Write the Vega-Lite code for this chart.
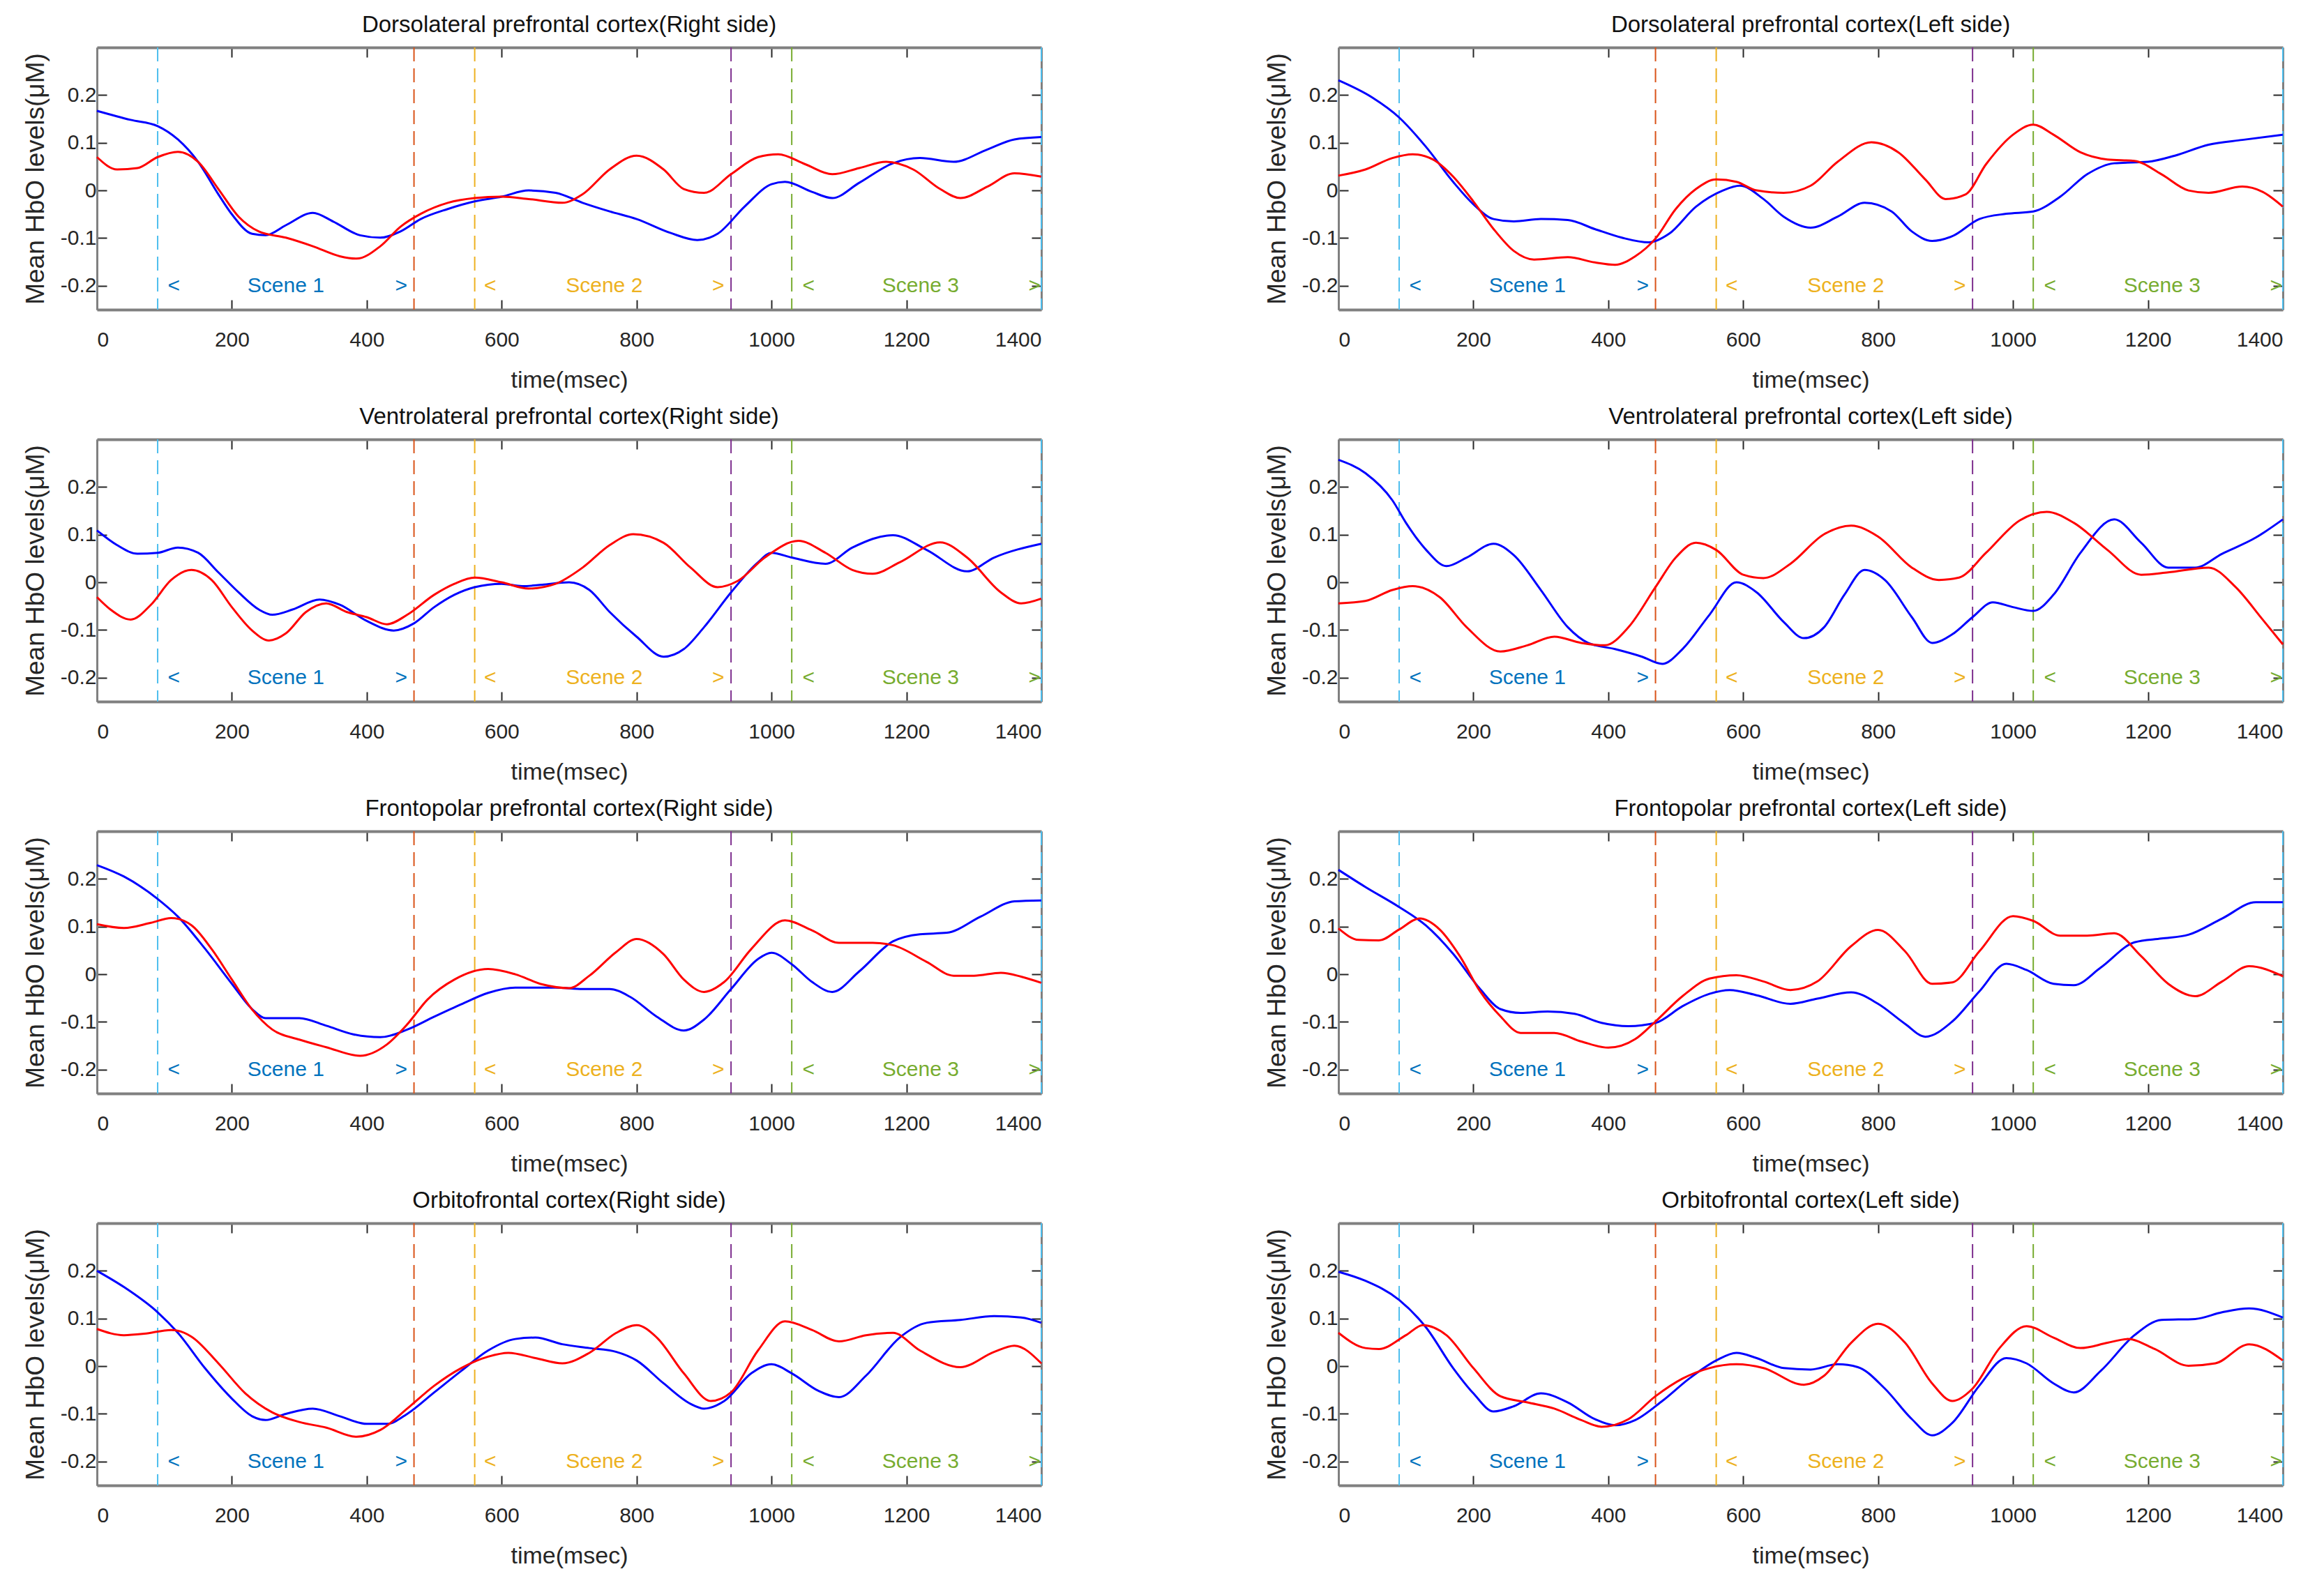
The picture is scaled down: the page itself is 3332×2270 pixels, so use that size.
{
"$schema": "https://vega.github.io/schema/vega-lite/v6.json",
"background": "white",
"padding": {"left": 32, "top": 20, "right": 10, "bottom": 10},
"datasets": {
"all": [
{"k":"c","p":"DR","c":"S1","t":0,"v":0.167},{"k":"c","p":"DR","c":"S1","t":50,"v":0.148},{"k":"c","p":"DR","c":"S1","t":90,"v":0.135},{"k":"c","p":"DR","c":"S1","t":120,"v":0.107},{"k":"c","p":"DR","c":"S1","t":150,"v":0.06},{"k":"c","p":"DR","c":"S1","t":180,"v":-0.008},{"k":"c","p":"DR","c":"S1","t":200,"v":-0.05},{"k":"c","p":"DR","c":"S1","t":230,"v":-0.091},{"k":"c","p":"DR","c":"S1","t":250,"v":-0.094},{"k":"c","p":"DR","c":"S1","t":280,"v":-0.073},{"k":"c","p":"DR","c":"S1","t":320,"v":-0.047},{"k":"c","p":"DR","c":"S1","t":350,"v":-0.065},{"k":"c","p":"DR","c":"S1","t":390,"v":-0.094},{"k":"c","p":"DR","c":"S1","t":420,"v":-0.099},{"k":"c","p":"DR","c":"S1","t":450,"v":-0.086},{"k":"c","p":"DR","c":"S1","t":480,"v":-0.06},{"k":"c","p":"DR","c":"S1","t":520,"v":-0.039},{"k":"c","p":"DR","c":"S1","t":560,"v":-0.023},{"k":"c","p":"DR","c":"S1","t":600,"v":-0.013},{"k":"c","p":"DR","c":"S1","t":640,"v":0},{"k":"c","p":"DR","c":"S1","t":680,"v":-0.005},{"k":"c","p":"DR","c":"S1","t":720,"v":-0.026},{"k":"c","p":"DR","c":"S1","t":760,"v":-0.044},{"k":"c","p":"DR","c":"S1","t":800,"v":-0.06},{"k":"c","p":"DR","c":"S1","t":850,"v":-0.089},{"k":"c","p":"DR","c":"S1","t":890,"v":-0.104},{"k":"c","p":"DR","c":"S1","t":920,"v":-0.091},{"k":"c","p":"DR","c":"S1","t":960,"v":-0.034},{"k":"c","p":"DR","c":"S1","t":1000,"v":0.013},{"k":"c","p":"DR","c":"S1","t":1020,"v":0.018},{"k":"c","p":"DR","c":"S1","t":1060,"v":-0.003},{"k":"c","p":"DR","c":"S1","t":1090,"v":-0.016},{"k":"c","p":"DR","c":"S1","t":1130,"v":0.016},{"k":"c","p":"DR","c":"S1","t":1180,"v":0.057},{"k":"c","p":"DR","c":"S1","t":1220,"v":0.068},{"k":"c","p":"DR","c":"S1","t":1270,"v":0.06},{"k":"c","p":"DR","c":"S1","t":1320,"v":0.086},{"k":"c","p":"DR","c":"S1","t":1360,"v":0.107},{"k":"c","p":"DR","c":"S1","t":1400,"v":0.112},
{"k":"c","p":"DR","c":"S2","t":0,"v":0.07},{"k":"c","p":"DR","c":"S2","t":30,"v":0.044},{"k":"c","p":"DR","c":"S2","t":60,"v":0.047},{"k":"c","p":"DR","c":"S2","t":90,"v":0.07},{"k":"c","p":"DR","c":"S2","t":120,"v":0.081},{"k":"c","p":"DR","c":"S2","t":150,"v":0.06},{"k":"c","p":"DR","c":"S2","t":180,"v":0.003},{"k":"c","p":"DR","c":"S2","t":210,"v":-0.055},{"k":"c","p":"DR","c":"S2","t":240,"v":-0.086},{"k":"c","p":"DR","c":"S2","t":280,"v":-0.099},{"k":"c","p":"DR","c":"S2","t":320,"v":-0.117},{"k":"c","p":"DR","c":"S2","t":360,"v":-0.138},{"k":"c","p":"DR","c":"S2","t":385,"v":-0.143},{"k":"c","p":"DR","c":"S2","t":420,"v":-0.117},{"k":"c","p":"DR","c":"S2","t":450,"v":-0.076},{"k":"c","p":"DR","c":"S2","t":480,"v":-0.049},{"k":"c","p":"DR","c":"S2","t":520,"v":-0.026},{"k":"c","p":"DR","c":"S2","t":560,"v":-0.016},{"k":"c","p":"DR","c":"S2","t":600,"v":-0.013},{"k":"c","p":"DR","c":"S2","t":640,"v":-0.018},{"k":"c","p":"DR","c":"S2","t":690,"v":-0.026},{"k":"c","p":"DR","c":"S2","t":720,"v":-0.008},{"k":"c","p":"DR","c":"S2","t":760,"v":0.044},{"k":"c","p":"DR","c":"S2","t":800,"v":0.073},{"k":"c","p":"DR","c":"S2","t":840,"v":0.044},{"k":"c","p":"DR","c":"S2","t":870,"v":0.003},{"k":"c","p":"DR","c":"S2","t":900,"v":-0.005},{"k":"c","p":"DR","c":"S2","t":940,"v":0.034},{"k":"c","p":"DR","c":"S2","t":980,"v":0.07},{"k":"c","p":"DR","c":"S2","t":1010,"v":0.076},{"k":"c","p":"DR","c":"S2","t":1050,"v":0.055},{"k":"c","p":"DR","c":"S2","t":1090,"v":0.034},{"k":"c","p":"DR","c":"S2","t":1130,"v":0.047},{"k":"c","p":"DR","c":"S2","t":1170,"v":0.06},{"k":"c","p":"DR","c":"S2","t":1210,"v":0.044},{"k":"c","p":"DR","c":"S2","t":1250,"v":0.003},{"k":"c","p":"DR","c":"S2","t":1280,"v":-0.016},{"k":"c","p":"DR","c":"S2","t":1320,"v":0.008},{"k":"c","p":"DR","c":"S2","t":1360,"v":0.036},{"k":"c","p":"DR","c":"S2","t":1400,"v":0.029},
{"k":"c","p":"DL","c":"S1","t":0,"v":0.231},{"k":"c","p":"DL","c":"S1","t":50,"v":0.195},{"k":"c","p":"DL","c":"S1","t":90,"v":0.153},{"k":"c","p":"DL","c":"S1","t":130,"v":0.091},{"k":"c","p":"DL","c":"S1","t":170,"v":0.018},{"k":"c","p":"DL","c":"S1","t":200,"v":-0.029},{"k":"c","p":"DL","c":"S1","t":230,"v":-0.06},{"k":"c","p":"DL","c":"S1","t":260,"v":-0.065},{"k":"c","p":"DL","c":"S1","t":300,"v":-0.06},{"k":"c","p":"DL","c":"S1","t":340,"v":-0.062},{"k":"c","p":"DL","c":"S1","t":380,"v":-0.081},{"k":"c","p":"DL","c":"S1","t":420,"v":-0.099},{"k":"c","p":"DL","c":"S1","t":460,"v":-0.109},{"k":"c","p":"DL","c":"S1","t":490,"v":-0.091},{"k":"c","p":"DL","c":"S1","t":530,"v":-0.034},{"k":"c","p":"DL","c":"S1","t":570,"v":0},{"k":"c","p":"DL","c":"S1","t":595,"v":0.01},{"k":"c","p":"DL","c":"S1","t":630,"v":-0.018},{"k":"c","p":"DL","c":"S1","t":660,"v":-0.055},{"k":"c","p":"DL","c":"S1","t":700,"v":-0.078},{"k":"c","p":"DL","c":"S1","t":740,"v":-0.055},{"k":"c","p":"DL","c":"S1","t":780,"v":-0.026},{"k":"c","p":"DL","c":"S1","t":820,"v":-0.044},{"k":"c","p":"DL","c":"S1","t":850,"v":-0.086},{"k":"c","p":"DL","c":"S1","t":880,"v":-0.106},{"k":"c","p":"DL","c":"S1","t":910,"v":-0.096},{"k":"c","p":"DL","c":"S1","t":950,"v":-0.06},{"k":"c","p":"DL","c":"S1","t":990,"v":-0.049},{"k":"c","p":"DL","c":"S1","t":1030,"v":-0.044},{"k":"c","p":"DL","c":"S1","t":1070,"v":-0.013},{"k":"c","p":"DL","c":"S1","t":1110,"v":0.034},{"k":"c","p":"DL","c":"S1","t":1150,"v":0.057},{"k":"c","p":"DL","c":"S1","t":1200,"v":0.06},{"k":"c","p":"DL","c":"S1","t":1240,"v":0.073},{"k":"c","p":"DL","c":"S1","t":1290,"v":0.096},{"k":"c","p":"DL","c":"S1","t":1340,"v":0.106},{"k":"c","p":"DL","c":"S1","t":1400,"v":0.117},
{"k":"c","p":"DL","c":"S2","t":0,"v":0.031},{"k":"c","p":"DL","c":"S2","t":40,"v":0.044},{"k":"c","p":"DL","c":"S2","t":80,"v":0.068},{"k":"c","p":"DL","c":"S2","t":110,"v":0.076},{"k":"c","p":"DL","c":"S2","t":140,"v":0.065},{"k":"c","p":"DL","c":"S2","t":170,"v":0.029},{"k":"c","p":"DL","c":"S2","t":200,"v":-0.023},{"k":"c","p":"DL","c":"S2","t":230,"v":-0.081},{"k":"c","p":"DL","c":"S2","t":260,"v":-0.127},{"k":"c","p":"DL","c":"S2","t":290,"v":-0.145},{"k":"c","p":"DL","c":"S2","t":340,"v":-0.14},{"k":"c","p":"DL","c":"S2","t":380,"v":-0.151},{"k":"c","p":"DL","c":"S2","t":410,"v":-0.156},{"k":"c","p":"DL","c":"S2","t":440,"v":-0.138},{"k":"c","p":"DL","c":"S2","t":470,"v":-0.101},{"k":"c","p":"DL","c":"S2","t":500,"v":-0.039},{"k":"c","p":"DL","c":"S2","t":530,"v":0.003},{"k":"c","p":"DL","c":"S2","t":560,"v":0.023},{"k":"c","p":"DL","c":"S2","t":590,"v":0.018},{"k":"c","p":"DL","c":"S2","t":620,"v":0},{"k":"c","p":"DL","c":"S2","t":660,"v":-0.005},{"k":"c","p":"DL","c":"S2","t":700,"v":0.01},{"k":"c","p":"DL","c":"S2","t":740,"v":0.06},{"k":"c","p":"DL","c":"S2","t":790,"v":0.101},{"k":"c","p":"DL","c":"S2","t":830,"v":0.08},{"k":"c","p":"DL","c":"S2","t":870,"v":0.023},{"k":"c","p":"DL","c":"S2","t":900,"v":-0.018},{"k":"c","p":"DL","c":"S2","t":930,"v":-0.008},{"k":"c","p":"DL","c":"S2","t":960,"v":0.055},{"k":"c","p":"DL","c":"S2","t":1000,"v":0.117},{"k":"c","p":"DL","c":"S2","t":1030,"v":0.138},{"k":"c","p":"DL","c":"S2","t":1060,"v":0.117},{"k":"c","p":"DL","c":"S2","t":1100,"v":0.08},{"k":"c","p":"DL","c":"S2","t":1140,"v":0.065},{"k":"c","p":"DL","c":"S2","t":1180,"v":0.062},{"k":"c","p":"DL","c":"S2","t":1220,"v":0.034},{"k":"c","p":"DL","c":"S2","t":1260,"v":0},{"k":"c","p":"DL","c":"S2","t":1290,"v":-0.005},{"k":"c","p":"DL","c":"S2","t":1340,"v":0.008},{"k":"c","p":"DL","c":"S2","t":1370,"v":-0.003},{"k":"c","p":"DL","c":"S2","t":1400,"v":-0.034},
{"k":"c","p":"VR","c":"S1","t":0,"v":0.109},{"k":"c","p":"VR","c":"S1","t":30,"v":0.078},{"k":"c","p":"VR","c":"S1","t":60,"v":0.06},{"k":"c","p":"VR","c":"S1","t":90,"v":0.062},{"k":"c","p":"VR","c":"S1","t":120,"v":0.073},{"k":"c","p":"VR","c":"S1","t":150,"v":0.062},{"k":"c","p":"VR","c":"S1","t":180,"v":0.021},{"k":"c","p":"VR","c":"S1","t":210,"v":-0.021},{"k":"c","p":"VR","c":"S1","t":240,"v":-0.057},{"k":"c","p":"VR","c":"S1","t":260,"v":-0.068},{"k":"c","p":"VR","c":"S1","t":290,"v":-0.057},{"k":"c","p":"VR","c":"S1","t":330,"v":-0.036},{"k":"c","p":"VR","c":"S1","t":360,"v":-0.047},{"k":"c","p":"VR","c":"S1","t":400,"v":-0.081},{"k":"c","p":"VR","c":"S1","t":440,"v":-0.101},{"k":"c","p":"VR","c":"S1","t":470,"v":-0.086},{"k":"c","p":"VR","c":"S1","t":500,"v":-0.052},{"k":"c","p":"VR","c":"S1","t":530,"v":-0.026},{"k":"c","p":"VR","c":"S1","t":560,"v":-0.01},{"k":"c","p":"VR","c":"S1","t":600,"v":-0.003},{"k":"c","p":"VR","c":"S1","t":630,"v":-0.008},{"k":"c","p":"VR","c":"S1","t":660,"v":-0.005},{"k":"c","p":"VR","c":"S1","t":700,"v":0},{"k":"c","p":"VR","c":"S1","t":730,"v":-0.016},{"k":"c","p":"VR","c":"S1","t":760,"v":-0.062},{"k":"c","p":"VR","c":"S1","t":800,"v":-0.114},{"k":"c","p":"VR","c":"S1","t":840,"v":-0.156},{"k":"c","p":"VR","c":"S1","t":870,"v":-0.14},{"k":"c","p":"VR","c":"S1","t":900,"v":-0.094},{"k":"c","p":"VR","c":"S1","t":940,"v":-0.021},{"k":"c","p":"VR","c":"S1","t":980,"v":0.042},{"k":"c","p":"VR","c":"S1","t":1000,"v":0.062},{"k":"c","p":"VR","c":"S1","t":1030,"v":0.052},{"k":"c","p":"VR","c":"S1","t":1080,"v":0.039},{"k":"c","p":"VR","c":"S1","t":1120,"v":0.073},{"k":"c","p":"VR","c":"S1","t":1180,"v":0.099},{"k":"c","p":"VR","c":"S1","t":1230,"v":0.068},{"k":"c","p":"VR","c":"S1","t":1290,"v":0.023},{"k":"c","p":"VR","c":"S1","t":1330,"v":0.052},{"k":"c","p":"VR","c":"S1","t":1400,"v":0.081},
{"k":"c","p":"VR","c":"S2","t":0,"v":-0.031},{"k":"c","p":"VR","c":"S2","t":20,"v":-0.057},{"k":"c","p":"VR","c":"S2","t":50,"v":-0.078},{"k":"c","p":"VR","c":"S2","t":80,"v":-0.047},{"k":"c","p":"VR","c":"S2","t":110,"v":0.005},{"k":"c","p":"VR","c":"S2","t":140,"v":0.026},{"k":"c","p":"VR","c":"S2","t":170,"v":0.005},{"k":"c","p":"VR","c":"S2","t":200,"v":-0.052},{"k":"c","p":"VR","c":"S2","t":230,"v":-0.101},{"k":"c","p":"VR","c":"S2","t":255,"v":-0.122},{"k":"c","p":"VR","c":"S2","t":280,"v":-0.107},{"k":"c","p":"VR","c":"S2","t":310,"v":-0.062},{"k":"c","p":"VR","c":"S2","t":340,"v":-0.044},{"k":"c","p":"VR","c":"S2","t":370,"v":-0.062},{"k":"c","p":"VR","c":"S2","t":400,"v":-0.073},{"k":"c","p":"VR","c":"S2","t":430,"v":-0.088},{"k":"c","p":"VR","c":"S2","t":460,"v":-0.068},{"k":"c","p":"VR","c":"S2","t":500,"v":-0.026},{"k":"c","p":"VR","c":"S2","t":530,"v":-0.003},{"k":"c","p":"VR","c":"S2","t":560,"v":0.01},{"k":"c","p":"VR","c":"S2","t":600,"v":0},{"k":"c","p":"VR","c":"S2","t":640,"v":-0.013},{"k":"c","p":"VR","c":"S2","t":680,"v":-0.003},{"k":"c","p":"VR","c":"S2","t":720,"v":0.031},{"k":"c","p":"VR","c":"S2","t":760,"v":0.078},{"k":"c","p":"VR","c":"S2","t":795,"v":0.101},{"k":"c","p":"VR","c":"S2","t":840,"v":0.083},{"k":"c","p":"VR","c":"S2","t":880,"v":0.031},{"k":"c","p":"VR","c":"S2","t":920,"v":-0.01},{"k":"c","p":"VR","c":"S2","t":950,"v":0.003},{"k":"c","p":"VR","c":"S2","t":990,"v":0.052},{"k":"c","p":"VR","c":"S2","t":1040,"v":0.087},{"k":"c","p":"VR","c":"S2","t":1080,"v":0.062},{"k":"c","p":"VR","c":"S2","t":1120,"v":0.026},{"k":"c","p":"VR","c":"S2","t":1150,"v":0.018},{"k":"c","p":"VR","c":"S2","t":1190,"v":0.042},{"k":"c","p":"VR","c":"S2","t":1250,"v":0.084},{"k":"c","p":"VR","c":"S2","t":1290,"v":0.052},{"k":"c","p":"VR","c":"S2","t":1340,"v":-0.021},{"k":"c","p":"VR","c":"S2","t":1370,"v":-0.044},{"k":"c","p":"VR","c":"S2","t":1400,"v":-0.034},
{"k":"c","p":"VL","c":"S1","t":0,"v":0.257},{"k":"c","p":"VL","c":"S1","t":40,"v":0.229},{"k":"c","p":"VL","c":"S1","t":80,"v":0.172},{"k":"c","p":"VL","c":"S1","t":100,"v":0.125},{"k":"c","p":"VL","c":"S1","t":130,"v":0.068},{"k":"c","p":"VL","c":"S1","t":160,"v":0.034},{"k":"c","p":"VL","c":"S1","t":190,"v":0.052},{"k":"c","p":"VL","c":"S1","t":230,"v":0.081},{"k":"c","p":"VL","c":"S1","t":260,"v":0.057},{"k":"c","p":"VL","c":"S1","t":300,"v":-0.016},{"k":"c","p":"VL","c":"S1","t":340,"v":-0.094},{"k":"c","p":"VL","c":"S1","t":370,"v":-0.127},{"k":"c","p":"VL","c":"S1","t":410,"v":-0.14},{"k":"c","p":"VL","c":"S1","t":450,"v":-0.156},{"k":"c","p":"VL","c":"S1","t":480,"v":-0.171},{"k":"c","p":"VL","c":"S1","t":510,"v":-0.14},{"k":"c","p":"VL","c":"S1","t":550,"v":-0.068},{"k":"c","p":"VL","c":"S1","t":590,"v":0},{"k":"c","p":"VL","c":"S1","t":620,"v":-0.021},{"k":"c","p":"VL","c":"S1","t":660,"v":-0.083},{"k":"c","p":"VL","c":"S1","t":690,"v":-0.117},{"k":"c","p":"VL","c":"S1","t":720,"v":-0.094},{"k":"c","p":"VL","c":"S1","t":750,"v":-0.026},{"k":"c","p":"VL","c":"S1","t":780,"v":0.026},{"k":"c","p":"VL","c":"S1","t":810,"v":0.005},{"k":"c","p":"VL","c":"S1","t":850,"v":-0.073},{"k":"c","p":"VL","c":"S1","t":880,"v":-0.127},{"k":"c","p":"VL","c":"S1","t":910,"v":-0.109},{"k":"c","p":"VL","c":"S1","t":940,"v":-0.073},{"k":"c","p":"VL","c":"S1","t":970,"v":-0.042},{"k":"c","p":"VL","c":"S1","t":1000,"v":-0.052},{"k":"c","p":"VL","c":"S1","t":1030,"v":-0.06},{"k":"c","p":"VL","c":"S1","t":1060,"v":-0.026},{"k":"c","p":"VL","c":"S1","t":1100,"v":0.062},{"k":"c","p":"VL","c":"S1","t":1150,"v":0.132},{"k":"c","p":"VL","c":"S1","t":1190,"v":0.083},{"k":"c","p":"VL","c":"S1","t":1230,"v":0.031},{"k":"c","p":"VL","c":"S1","t":1270,"v":0.031},{"k":"c","p":"VL","c":"S1","t":1310,"v":0.06},{"k":"c","p":"VL","c":"S1","t":1360,"v":0.094},{"k":"c","p":"VL","c":"S1","t":1400,"v":0.132},
{"k":"c","p":"VL","c":"S2","t":0,"v":-0.044},{"k":"c","p":"VL","c":"S2","t":40,"v":-0.039},{"k":"c","p":"VL","c":"S2","t":80,"v":-0.016},{"k":"c","p":"VL","c":"S2","t":110,"v":-0.008},{"k":"c","p":"VL","c":"S2","t":150,"v":-0.031},{"k":"c","p":"VL","c":"S2","t":190,"v":-0.094},{"k":"c","p":"VL","c":"S2","t":240,"v":-0.145},{"k":"c","p":"VL","c":"S2","t":280,"v":-0.132},{"k":"c","p":"VL","c":"S2","t":320,"v":-0.114},{"k":"c","p":"VL","c":"S2","t":360,"v":-0.127},{"k":"c","p":"VL","c":"S2","t":395,"v":-0.132},{"k":"c","p":"VL","c":"S2","t":430,"v":-0.094},{"k":"c","p":"VL","c":"S2","t":470,"v":-0.01},{"k":"c","p":"VL","c":"S2","t":500,"v":0.052},{"k":"c","p":"VL","c":"S2","t":530,"v":0.083},{"k":"c","p":"VL","c":"S2","t":560,"v":0.068},{"k":"c","p":"VL","c":"S2","t":600,"v":0.016},{"k":"c","p":"VL","c":"S2","t":630,"v":0.009},{"k":"c","p":"VL","c":"S2","t":670,"v":0.039},{"k":"c","p":"VL","c":"S2","t":720,"v":0.101},{"k":"c","p":"VL","c":"S2","t":760,"v":0.119},{"k":"c","p":"VL","c":"S2","t":800,"v":0.096},{"k":"c","p":"VL","c":"S2","t":850,"v":0.031},{"k":"c","p":"VL","c":"S2","t":890,"v":0.005},{"k":"c","p":"VL","c":"S2","t":920,"v":0.01},{"k":"c","p":"VL","c":"S2","t":960,"v":0.062},{"k":"c","p":"VL","c":"S2","t":1010,"v":0.13},{"k":"c","p":"VL","c":"S2","t":1050,"v":0.148},{"k":"c","p":"VL","c":"S2","t":1090,"v":0.125},{"k":"c","p":"VL","c":"S2","t":1140,"v":0.068},{"k":"c","p":"VL","c":"S2","t":1190,"v":0.016},{"k":"c","p":"VL","c":"S2","t":1230,"v":0.021},{"k":"c","p":"VL","c":"S2","t":1290,"v":0.031},{"k":"c","p":"VL","c":"S2","t":1330,"v":-0.01},{"k":"c","p":"VL","c":"S2","t":1370,"v":-0.078},{"k":"c","p":"VL","c":"S2","t":1400,"v":-0.13},
{"k":"c","p":"FR","c":"S1","t":0,"v":0.229},{"k":"c","p":"FR","c":"S1","t":40,"v":0.205},{"k":"c","p":"FR","c":"S1","t":90,"v":0.158},{"k":"c","p":"FR","c":"S1","t":120,"v":0.121},{"k":"c","p":"FR","c":"S1","t":160,"v":0.054},{"k":"c","p":"FR","c":"S1","t":200,"v":-0.02},{"k":"c","p":"FR","c":"S1","t":230,"v":-0.073},{"k":"c","p":"FR","c":"S1","t":250,"v":-0.092},{"k":"c","p":"FR","c":"S1","t":300,"v":-0.092},{"k":"c","p":"FR","c":"S1","t":340,"v":-0.108},{"k":"c","p":"FR","c":"S1","t":380,"v":-0.126},{"k":"c","p":"FR","c":"S1","t":420,"v":-0.132},{"k":"c","p":"FR","c":"S1","t":460,"v":-0.116},{"k":"c","p":"FR","c":"S1","t":500,"v":-0.089},{"k":"c","p":"FR","c":"S1","t":540,"v":-0.063},{"k":"c","p":"FR","c":"S1","t":580,"v":-0.039},{"k":"c","p":"FR","c":"S1","t":620,"v":-0.028},{"k":"c","p":"FR","c":"S1","t":680,"v":-0.028},{"k":"c","p":"FR","c":"S1","t":720,"v":-0.031},{"k":"c","p":"FR","c":"S1","t":760,"v":-0.031},{"k":"c","p":"FR","c":"S1","t":790,"v":-0.047},{"k":"c","p":"FR","c":"S1","t":830,"v":-0.089},{"k":"c","p":"FR","c":"S1","t":870,"v":-0.118},{"k":"c","p":"FR","c":"S1","t":900,"v":-0.095},{"k":"c","p":"FR","c":"S1","t":940,"v":-0.031},{"k":"c","p":"FR","c":"S1","t":980,"v":0.032},{"k":"c","p":"FR","c":"S1","t":1000,"v":0.045},{"k":"c","p":"FR","c":"S1","t":1030,"v":0.021},{"k":"c","p":"FR","c":"S1","t":1060,"v":-0.016},{"k":"c","p":"FR","c":"S1","t":1090,"v":-0.037},{"k":"c","p":"FR","c":"S1","t":1130,"v":0.006},{"k":"c","p":"FR","c":"S1","t":1180,"v":0.069},{"k":"c","p":"FR","c":"S1","t":1220,"v":0.084},{"k":"c","p":"FR","c":"S1","t":1260,"v":0.087},{"k":"c","p":"FR","c":"S1","t":1310,"v":0.121},{"k":"c","p":"FR","c":"S1","t":1360,"v":0.153},{"k":"c","p":"FR","c":"S1","t":1400,"v":0.155},
{"k":"c","p":"FR","c":"S2","t":0,"v":0.105},{"k":"c","p":"FR","c":"S2","t":40,"v":0.097},{"k":"c","p":"FR","c":"S2","t":80,"v":0.108},{"k":"c","p":"FR","c":"S2","t":110,"v":0.118},{"k":"c","p":"FR","c":"S2","t":140,"v":0.103},{"k":"c","p":"FR","c":"S2","t":170,"v":0.053},{"k":"c","p":"FR","c":"S2","t":200,"v":-0.011},{"k":"c","p":"FR","c":"S2","t":230,"v":-0.074},{"k":"c","p":"FR","c":"S2","t":260,"v":-0.116},{"k":"c","p":"FR","c":"S2","t":300,"v":-0.137},{"k":"c","p":"FR","c":"S2","t":340,"v":-0.153},{"k":"c","p":"FR","c":"S2","t":390,"v":-0.171},{"k":"c","p":"FR","c":"S2","t":430,"v":-0.147},{"k":"c","p":"FR","c":"S2","t":460,"v":-0.105},{"k":"c","p":"FR","c":"S2","t":490,"v":-0.053},{"k":"c","p":"FR","c":"S2","t":530,"v":-0.011},{"k":"c","p":"FR","c":"S2","t":580,"v":0.011},{"k":"c","p":"FR","c":"S2","t":620,"v":0},{"k":"c","p":"FR","c":"S2","t":660,"v":-0.021},{"k":"c","p":"FR","c":"S2","t":700,"v":-0.029},{"k":"c","p":"FR","c":"S2","t":730,"v":-0.003},{"k":"c","p":"FR","c":"S2","t":770,"v":0.047},{"k":"c","p":"FR","c":"S2","t":800,"v":0.074},{"k":"c","p":"FR","c":"S2","t":840,"v":0.042},{"k":"c","p":"FR","c":"S2","t":870,"v":-0.011},{"k":"c","p":"FR","c":"S2","t":900,"v":-0.037},{"k":"c","p":"FR","c":"S2","t":930,"v":-0.016},{"k":"c","p":"FR","c":"S2","t":970,"v":0.053},{"k":"c","p":"FR","c":"S2","t":1020,"v":0.113},{"k":"c","p":"FR","c":"S2","t":1060,"v":0.092},{"k":"c","p":"FR","c":"S2","t":1100,"v":0.066},{"k":"c","p":"FR","c":"S2","t":1150,"v":0.066},{"k":"c","p":"FR","c":"S2","t":1180,"v":0.061},{"k":"c","p":"FR","c":"S2","t":1230,"v":0.026},{"k":"c","p":"FR","c":"S2","t":1270,"v":-0.003},{"k":"c","p":"FR","c":"S2","t":1300,"v":-0.003},{"k":"c","p":"FR","c":"S2","t":1340,"v":0.003},{"k":"c","p":"FR","c":"S2","t":1370,"v":-0.005},{"k":"c","p":"FR","c":"S2","t":1400,"v":-0.018},
{"k":"c","p":"FL","c":"S1","t":0,"v":0.219},{"k":"c","p":"FL","c":"S1","t":40,"v":0.183},{"k":"c","p":"FL","c":"S1","t":90,"v":0.141},{"k":"c","p":"FL","c":"S1","t":130,"v":0.102},{"k":"c","p":"FL","c":"S1","t":170,"v":0.043},{"k":"c","p":"FL","c":"S1","t":210,"v":-0.031},{"k":"c","p":"FL","c":"S1","t":240,"v":-0.073},{"k":"c","p":"FL","c":"S1","t":270,"v":-0.081},{"k":"c","p":"FL","c":"S1","t":310,"v":-0.078},{"k":"c","p":"FL","c":"S1","t":350,"v":-0.083},{"k":"c","p":"FL","c":"S1","t":390,"v":-0.102},{"k":"c","p":"FL","c":"S1","t":430,"v":-0.109},{"k":"c","p":"FL","c":"S1","t":470,"v":-0.102},{"k":"c","p":"FL","c":"S1","t":510,"v":-0.067},{"k":"c","p":"FL","c":"S1","t":550,"v":-0.041},{"k":"c","p":"FL","c":"S1","t":580,"v":-0.033},{"k":"c","p":"FL","c":"S1","t":620,"v":-0.044},{"k":"c","p":"FL","c":"S1","t":670,"v":-0.062},{"k":"c","p":"FL","c":"S1","t":710,"v":-0.051},{"k":"c","p":"FL","c":"S1","t":760,"v":-0.038},{"k":"c","p":"FL","c":"S1","t":800,"v":-0.062},{"k":"c","p":"FL","c":"S1","t":840,"v":-0.104},{"k":"c","p":"FL","c":"S1","t":870,"v":-0.131},{"k":"c","p":"FL","c":"S1","t":910,"v":-0.099},{"k":"c","p":"FL","c":"S1","t":950,"v":-0.036},{"k":"c","p":"FL","c":"S1","t":990,"v":0.022},{"k":"c","p":"FL","c":"S1","t":1020,"v":0.009},{"k":"c","p":"FL","c":"S1","t":1060,"v":-0.02},{"k":"c","p":"FL","c":"S1","t":1090,"v":-0.023},{"k":"c","p":"FL","c":"S1","t":1130,"v":0.014},{"k":"c","p":"FL","c":"S1","t":1180,"v":0.067},{"k":"c","p":"FL","c":"S1","t":1220,"v":0.075},{"k":"c","p":"FL","c":"S1","t":1260,"v":0.083},{"k":"c","p":"FL","c":"S1","t":1310,"v":0.117},{"k":"c","p":"FL","c":"S1","t":1360,"v":0.151},{"k":"c","p":"FL","c":"S1","t":1400,"v":0.151},
{"k":"c","p":"FL","c":"S2","t":0,"v":0.096},{"k":"c","p":"FL","c":"S2","t":30,"v":0.072},{"k":"c","p":"FL","c":"S2","t":60,"v":0.071},{"k":"c","p":"FL","c":"S2","t":90,"v":0.094},{"k":"c","p":"FL","c":"S2","t":120,"v":0.117},{"k":"c","p":"FL","c":"S2","t":150,"v":0.094},{"k":"c","p":"FL","c":"S2","t":180,"v":0.038},{"k":"c","p":"FL","c":"S2","t":210,"v":-0.036},{"k":"c","p":"FL","c":"S2","t":240,"v":-0.088},{"k":"c","p":"FL","c":"S2","t":270,"v":-0.123},{"k":"c","p":"FL","c":"S2","t":320,"v":-0.123},{"k":"c","p":"FL","c":"S2","t":360,"v":-0.141},{"k":"c","p":"FL","c":"S2","t":400,"v":-0.154},{"k":"c","p":"FL","c":"S2","t":440,"v":-0.136},{"k":"c","p":"FL","c":"S2","t":470,"v":-0.099},{"k":"c","p":"FL","c":"S2","t":510,"v":-0.046},{"k":"c","p":"FL","c":"S2","t":550,"v":-0.009},{"k":"c","p":"FL","c":"S2","t":590,"v":-0.002},{"k":"c","p":"FL","c":"S2","t":630,"v":-0.015},{"k":"c","p":"FL","c":"S2","t":670,"v":-0.033},{"k":"c","p":"FL","c":"S2","t":710,"v":-0.015},{"k":"c","p":"FL","c":"S2","t":760,"v":0.059},{"k":"c","p":"FL","c":"S2","t":800,"v":0.093},{"k":"c","p":"FL","c":"S2","t":840,"v":0.048},{"k":"c","p":"FL","c":"S2","t":880,"v":-0.02},{"k":"c","p":"FL","c":"S2","t":910,"v":-0.017},{"k":"c","p":"FL","c":"S2","t":950,"v":0.048},{"k":"c","p":"FL","c":"S2","t":1000,"v":0.122},{"k":"c","p":"FL","c":"S2","t":1030,"v":0.112},{"k":"c","p":"FL","c":"S2","t":1070,"v":0.081},{"k":"c","p":"FL","c":"S2","t":1110,"v":0.081},{"k":"c","p":"FL","c":"S2","t":1150,"v":0.086},{"k":"c","p":"FL","c":"S2","t":1190,"v":0.038},{"k":"c","p":"FL","c":"S2","t":1230,"v":-0.02},{"k":"c","p":"FL","c":"S2","t":1270,"v":-0.046},{"k":"c","p":"FL","c":"S2","t":1310,"v":-0.015},{"k":"c","p":"FL","c":"S2","t":1350,"v":0.017},{"k":"c","p":"FL","c":"S2","t":1400,"v":-0.004},
{"k":"c","p":"OR","c":"S1","t":0,"v":0.2},{"k":"c","p":"OR","c":"S1","t":40,"v":0.166},{"k":"c","p":"OR","c":"S1","t":90,"v":0.113},{"k":"c","p":"OR","c":"S1","t":120,"v":0.07},{"k":"c","p":"OR","c":"S1","t":160,"v":-0.004},{"k":"c","p":"OR","c":"S1","t":200,"v":-0.068},{"k":"c","p":"OR","c":"S1","t":230,"v":-0.105},{"k":"c","p":"OR","c":"S1","t":250,"v":-0.113},{"k":"c","p":"OR","c":"S1","t":280,"v":-0.1},{"k":"c","p":"OR","c":"S1","t":320,"v":-0.089},{"k":"c","p":"OR","c":"S1","t":360,"v":-0.105},{"k":"c","p":"OR","c":"S1","t":400,"v":-0.121},{"k":"c","p":"OR","c":"S1","t":430,"v":-0.121},{"k":"c","p":"OR","c":"S1","t":460,"v":-0.1},{"k":"c","p":"OR","c":"S1","t":500,"v":-0.055},{"k":"c","p":"OR","c":"S1","t":540,"v":-0.01},{"k":"c","p":"OR","c":"S1","t":580,"v":0.033},{"k":"c","p":"OR","c":"S1","t":620,"v":0.057},{"k":"c","p":"OR","c":"S1","t":650,"v":0.06},{"k":"c","p":"OR","c":"S1","t":690,"v":0.046},{"k":"c","p":"OR","c":"S1","t":730,"v":0.038},{"k":"c","p":"OR","c":"S1","t":770,"v":0.03},{"k":"c","p":"OR","c":"S1","t":800,"v":0.012},{"k":"c","p":"OR","c":"S1","t":840,"v":-0.036},{"k":"c","p":"OR","c":"S1","t":880,"v":-0.079},{"k":"c","p":"OR","c":"S1","t":900,"v":-0.089},{"k":"c","p":"OR","c":"S1","t":930,"v":-0.073},{"k":"c","p":"OR","c":"S1","t":970,"v":-0.015},{"k":"c","p":"OR","c":"S1","t":1000,"v":0.004},{"k":"c","p":"OR","c":"S1","t":1030,"v":-0.015},{"k":"c","p":"OR","c":"S1","t":1070,"v":-0.052},{"k":"c","p":"OR","c":"S1","t":1100,"v":-0.065},{"k":"c","p":"OR","c":"S1","t":1140,"v":-0.02},{"k":"c","p":"OR","c":"S1","t":1190,"v":0.06},{"k":"c","p":"OR","c":"S1","t":1230,"v":0.091},{"k":"c","p":"OR","c":"S1","t":1280,"v":0.097},{"k":"c","p":"OR","c":"S1","t":1330,"v":0.105},{"k":"c","p":"OR","c":"S1","t":1370,"v":0.102},{"k":"c","p":"OR","c":"S1","t":1400,"v":0.091},
{"k":"c","p":"OR","c":"S2","t":0,"v":0.078},{"k":"c","p":"OR","c":"S2","t":40,"v":0.065},{"k":"c","p":"OR","c":"S2","t":70,"v":0.068},{"k":"c","p":"OR","c":"S2","t":110,"v":0.076},{"k":"c","p":"OR","c":"S2","t":140,"v":0.062},{"k":"c","p":"OR","c":"S2","t":180,"v":0.006},{"k":"c","p":"OR","c":"S2","t":220,"v":-0.057},{"k":"c","p":"OR","c":"S2","t":260,"v":-0.097},{"k":"c","p":"OR","c":"S2","t":300,"v":-0.117},{"k":"c","p":"OR","c":"S2","t":340,"v":-0.129},{"k":"c","p":"OR","c":"S2","t":385,"v":-0.148},{"k":"c","p":"OR","c":"S2","t":420,"v":-0.134},{"k":"c","p":"OR","c":"S2","t":460,"v":-0.089},{"k":"c","p":"OR","c":"S2","t":500,"v":-0.041},{"k":"c","p":"OR","c":"S2","t":540,"v":-0.004},{"k":"c","p":"OR","c":"S2","t":580,"v":0.02},{"k":"c","p":"OR","c":"S2","t":610,"v":0.028},{"k":"c","p":"OR","c":"S2","t":650,"v":0.017},{"k":"c","p":"OR","c":"S2","t":690,"v":0.006},{"k":"c","p":"OR","c":"S2","t":730,"v":0.028},{"k":"c","p":"OR","c":"S2","t":770,"v":0.07},{"k":"c","p":"OR","c":"S2","t":800,"v":0.086},{"k":"c","p":"OR","c":"S2","t":830,"v":0.06},{"k":"c","p":"OR","c":"S2","t":870,"v":-0.015},{"k":"c","p":"OR","c":"S2","t":910,"v":-0.073},{"k":"c","p":"OR","c":"S2","t":940,"v":-0.055},{"k":"c","p":"OR","c":"S2","t":980,"v":0.033},{"k":"c","p":"OR","c":"S2","t":1020,"v":0.094},{"k":"c","p":"OR","c":"S2","t":1060,"v":0.076},{"k":"c","p":"OR","c":"S2","t":1100,"v":0.052},{"k":"c","p":"OR","c":"S2","t":1140,"v":0.065},{"k":"c","p":"OR","c":"S2","t":1180,"v":0.07},{"k":"c","p":"OR","c":"S2","t":1220,"v":0.033},{"k":"c","p":"OR","c":"S2","t":1280,"v":-0.002},{"k":"c","p":"OR","c":"S2","t":1330,"v":0.03},{"k":"c","p":"OR","c":"S2","t":1360,"v":0.043},{"k":"c","p":"OR","c":"S2","t":1400,"v":0.006},
{"k":"c","p":"OL","c":"S1","t":0,"v":0.198},{"k":"c","p":"OL","c":"S1","t":40,"v":0.179},{"k":"c","p":"OL","c":"S1","t":90,"v":0.139},{"k":"c","p":"OL","c":"S1","t":130,"v":0.081},{"k":"c","p":"OL","c":"S1","t":170,"v":-0.004},{"k":"c","p":"OL","c":"S1","t":200,"v":-0.057},{"k":"c","p":"OL","c":"S1","t":230,"v":-0.095},{"k":"c","p":"OL","c":"S1","t":260,"v":-0.084},{"k":"c","p":"OL","c":"S1","t":300,"v":-0.057},{"k":"c","p":"OL","c":"S1","t":340,"v":-0.076},{"k":"c","p":"OL","c":"S1","t":380,"v":-0.111},{"k":"c","p":"OL","c":"S1","t":410,"v":-0.124},{"k":"c","p":"OL","c":"S1","t":440,"v":-0.113},{"k":"c","p":"OL","c":"S1","t":480,"v":-0.073},{"k":"c","p":"OL","c":"S1","t":520,"v":-0.026},{"k":"c","p":"OL","c":"S1","t":560,"v":0.012},{"k":"c","p":"OL","c":"S1","t":590,"v":0.028},{"k":"c","p":"OL","c":"S1","t":620,"v":0.017},{"k":"c","p":"OL","c":"S1","t":660,"v":-0.004},{"k":"c","p":"OL","c":"S1","t":700,"v":-0.007},{"k":"c","p":"OL","c":"S1","t":740,"v":0.004},{"k":"c","p":"OL","c":"S1","t":770,"v":-0.002},{"k":"c","p":"OL","c":"S1","t":810,"v":-0.047},{"k":"c","p":"OL","c":"S1","t":850,"v":-0.111},{"k":"c","p":"OL","c":"S1","t":880,"v":-0.145},{"k":"c","p":"OL","c":"S1","t":910,"v":-0.119},{"k":"c","p":"OL","c":"S1","t":950,"v":-0.041},{"k":"c","p":"OL","c":"S1","t":990,"v":0.017},{"k":"c","p":"OL","c":"S1","t":1020,"v":0.006},{"k":"c","p":"OL","c":"S1","t":1060,"v":-0.036},{"k":"c","p":"OL","c":"S1","t":1090,"v":-0.055},{"k":"c","p":"OL","c":"S1","t":1130,"v":-0.01},{"k":"c","p":"OL","c":"S1","t":1180,"v":0.065},{"k":"c","p":"OL","c":"S1","t":1220,"v":0.097},{"k":"c","p":"OL","c":"S1","t":1270,"v":0.099},{"k":"c","p":"OL","c":"S1","t":1310,"v":0.113},{"k":"c","p":"OL","c":"S1","t":1350,"v":0.121},{"k":"c","p":"OL","c":"S1","t":1400,"v":0.102},
{"k":"c","p":"OL","c":"S2","t":0,"v":0.07},{"k":"c","p":"OL","c":"S2","t":40,"v":0.038},{"k":"c","p":"OL","c":"S2","t":60,"v":0.036},{"k":"c","p":"OL","c":"S2","t":100,"v":0.065},{"k":"c","p":"OL","c":"S2","t":125,"v":0.086},{"k":"c","p":"OL","c":"S2","t":160,"v":0.065},{"k":"c","p":"OL","c":"S2","t":200,"v":-0.004},{"k":"c","p":"OL","c":"S2","t":240,"v":-0.063},{"k":"c","p":"OL","c":"S2","t":280,"v":-0.076},{"k":"c","p":"OL","c":"S2","t":320,"v":-0.089},{"k":"c","p":"OL","c":"S2","t":360,"v":-0.113},{"k":"c","p":"OL","c":"S2","t":390,"v":-0.127},{"k":"c","p":"OL","c":"S2","t":430,"v":-0.111},{"k":"c","p":"OL","c":"S2","t":470,"v":-0.063},{"k":"c","p":"OL","c":"S2","t":510,"v":-0.026},{"k":"c","p":"OL","c":"S2","t":550,"v":-0.004},{"k":"c","p":"OL","c":"S2","t":590,"v":0.004},{"k":"c","p":"OL","c":"S2","t":630,"v":-0.004},{"k":"c","p":"OL","c":"S2","t":690,"v":-0.039},{"k":"c","p":"OL","c":"S2","t":720,"v":-0.02},{"k":"c","p":"OL","c":"S2","t":760,"v":0.049},{"k":"c","p":"OL","c":"S2","t":800,"v":0.089},{"k":"c","p":"OL","c":"S2","t":840,"v":0.049},{"k":"c","p":"OL","c":"S2","t":880,"v":-0.036},{"k":"c","p":"OL","c":"S2","t":910,"v":-0.073},{"k":"c","p":"OL","c":"S2","t":940,"v":-0.047},{"k":"c","p":"OL","c":"S2","t":980,"v":0.038},{"k":"c","p":"OL","c":"S2","t":1020,"v":0.084},{"k":"c","p":"OL","c":"S2","t":1060,"v":0.06},{"k":"c","p":"OL","c":"S2","t":1100,"v":0.038},{"k":"c","p":"OL","c":"S2","t":1140,"v":0.049},{"k":"c","p":"OL","c":"S2","t":1170,"v":0.057},{"k":"c","p":"OL","c":"S2","t":1210,"v":0.036},{"k":"c","p":"OL","c":"S2","t":1260,"v":0.001},{"k":"c","p":"OL","c":"S2","t":1300,"v":0.006},{"k":"c","p":"OL","c":"S2","t":1350,"v":0.046},{"k":"c","p":"OL","c":"S2","t":1400,"v":0.012},
{"k":"m","p":"DR","c":"m90","t":90},{"k":"m","p":"DR","c":"m470","t":470},{"k":"m","p":"DR","c":"m560","t":560},{"k":"m","p":"DR","c":"m940","t":940},{"k":"m","p":"DR","c":"m1030","t":1030},{"k":"m","p":"DR","c":"m1400","t":1400},
{"k":"m","p":"DL","c":"m90","t":90},{"k":"m","p":"DL","c":"m470","t":470},{"k":"m","p":"DL","c":"m560","t":560},{"k":"m","p":"DL","c":"m940","t":940},{"k":"m","p":"DL","c":"m1030","t":1030},{"k":"m","p":"DL","c":"m1400","t":1400},
{"k":"m","p":"VR","c":"m90","t":90},{"k":"m","p":"VR","c":"m470","t":470},{"k":"m","p":"VR","c":"m560","t":560},{"k":"m","p":"VR","c":"m940","t":940},{"k":"m","p":"VR","c":"m1030","t":1030},{"k":"m","p":"VR","c":"m1400","t":1400},
{"k":"m","p":"VL","c":"m90","t":90},{"k":"m","p":"VL","c":"m470","t":470},{"k":"m","p":"VL","c":"m560","t":560},{"k":"m","p":"VL","c":"m940","t":940},{"k":"m","p":"VL","c":"m1030","t":1030},{"k":"m","p":"VL","c":"m1400","t":1400},
{"k":"m","p":"FR","c":"m90","t":90},{"k":"m","p":"FR","c":"m470","t":470},{"k":"m","p":"FR","c":"m560","t":560},{"k":"m","p":"FR","c":"m940","t":940},{"k":"m","p":"FR","c":"m1030","t":1030},{"k":"m","p":"FR","c":"m1400","t":1400},
{"k":"m","p":"FL","c":"m90","t":90},{"k":"m","p":"FL","c":"m470","t":470},{"k":"m","p":"FL","c":"m560","t":560},{"k":"m","p":"FL","c":"m940","t":940},{"k":"m","p":"FL","c":"m1030","t":1030},{"k":"m","p":"FL","c":"m1400","t":1400},
{"k":"m","p":"OR","c":"m90","t":90},{"k":"m","p":"OR","c":"m470","t":470},{"k":"m","p":"OR","c":"m560","t":560},{"k":"m","p":"OR","c":"m940","t":940},{"k":"m","p":"OR","c":"m1030","t":1030},{"k":"m","p":"OR","c":"m1400","t":1400},
{"k":"m","p":"OL","c":"m90","t":90},{"k":"m","p":"OL","c":"m470","t":470},{"k":"m","p":"OL","c":"m560","t":560},{"k":"m","p":"OL","c":"m940","t":940},{"k":"m","p":"OL","c":"m1030","t":1030},{"k":"m","p":"OL","c":"m1400","t":1400},
{"k":"s","p":"DR","c":"Scene 1","t":114,"v":-0.2,"label":"<"},{"k":"s","p":"DR","c":"Scene 1","t":280,"v":-0.2,"label":"Scene 1"},{"k":"s","p":"DR","c":"Scene 1","t":451,"v":-0.2,"label":">"},{"k":"s","p":"DR","c":"Scene 2","t":583,"v":-0.2,"label":"<"},{"k":"s","p":"DR","c":"Scene 2","t":752,"v":-0.2,"label":"Scene 2"},{"k":"s","p":"DR","c":"Scene 2","t":921,"v":-0.2,"label":">"},{"k":"s","p":"DR","c":"Scene 3","t":1055,"v":-0.2,"label":"<"},{"k":"s","p":"DR","c":"Scene 3","t":1221,"v":-0.2,"label":"Scene 3"},{"k":"s","p":"DR","c":"Scene 3","t":1390,"v":-0.2,"label":">"},
{"k":"s","p":"DL","c":"Scene 1","t":114,"v":-0.2,"label":"<"},{"k":"s","p":"DL","c":"Scene 1","t":280,"v":-0.2,"label":"Scene 1"},{"k":"s","p":"DL","c":"Scene 1","t":451,"v":-0.2,"label":">"},{"k":"s","p":"DL","c":"Scene 2","t":583,"v":-0.2,"label":"<"},{"k":"s","p":"DL","c":"Scene 2","t":752,"v":-0.2,"label":"Scene 2"},{"k":"s","p":"DL","c":"Scene 2","t":921,"v":-0.2,"label":">"},{"k":"s","p":"DL","c":"Scene 3","t":1055,"v":-0.2,"label":"<"},{"k":"s","p":"DL","c":"Scene 3","t":1221,"v":-0.2,"label":"Scene 3"},{"k":"s","p":"DL","c":"Scene 3","t":1390,"v":-0.2,"label":">"},
{"k":"s","p":"VR","c":"Scene 1","t":114,"v":-0.2,"label":"<"},{"k":"s","p":"VR","c":"Scene 1","t":280,"v":-0.2,"label":"Scene 1"},{"k":"s","p":"VR","c":"Scene 1","t":451,"v":-0.2,"label":">"},{"k":"s","p":"VR","c":"Scene 2","t":583,"v":-0.2,"label":"<"},{"k":"s","p":"VR","c":"Scene 2","t":752,"v":-0.2,"label":"Scene 2"},{"k":"s","p":"VR","c":"Scene 2","t":921,"v":-0.2,"label":">"},{"k":"s","p":"VR","c":"Scene 3","t":1055,"v":-0.2,"label":"<"},{"k":"s","p":"VR","c":"Scene 3","t":1221,"v":-0.2,"label":"Scene 3"},{"k":"s","p":"VR","c":"Scene 3","t":1390,"v":-0.2,"label":">"},
{"k":"s","p":"VL","c":"Scene 1","t":114,"v":-0.2,"label":"<"},{"k":"s","p":"VL","c":"Scene 1","t":280,"v":-0.2,"label":"Scene 1"},{"k":"s","p":"VL","c":"Scene 1","t":451,"v":-0.2,"label":">"},{"k":"s","p":"VL","c":"Scene 2","t":583,"v":-0.2,"label":"<"},{"k":"s","p":"VL","c":"Scene 2","t":752,"v":-0.2,"label":"Scene 2"},{"k":"s","p":"VL","c":"Scene 2","t":921,"v":-0.2,"label":">"},{"k":"s","p":"VL","c":"Scene 3","t":1055,"v":-0.2,"label":"<"},{"k":"s","p":"VL","c":"Scene 3","t":1221,"v":-0.2,"label":"Scene 3"},{"k":"s","p":"VL","c":"Scene 3","t":1390,"v":-0.2,"label":">"},
{"k":"s","p":"FR","c":"Scene 1","t":114,"v":-0.2,"label":"<"},{"k":"s","p":"FR","c":"Scene 1","t":280,"v":-0.2,"label":"Scene 1"},{"k":"s","p":"FR","c":"Scene 1","t":451,"v":-0.2,"label":">"},{"k":"s","p":"FR","c":"Scene 2","t":583,"v":-0.2,"label":"<"},{"k":"s","p":"FR","c":"Scene 2","t":752,"v":-0.2,"label":"Scene 2"},{"k":"s","p":"FR","c":"Scene 2","t":921,"v":-0.2,"label":">"},{"k":"s","p":"FR","c":"Scene 3","t":1055,"v":-0.2,"label":"<"},{"k":"s","p":"FR","c":"Scene 3","t":1221,"v":-0.2,"label":"Scene 3"},{"k":"s","p":"FR","c":"Scene 3","t":1390,"v":-0.2,"label":">"},
{"k":"s","p":"FL","c":"Scene 1","t":114,"v":-0.2,"label":"<"},{"k":"s","p":"FL","c":"Scene 1","t":280,"v":-0.2,"label":"Scene 1"},{"k":"s","p":"FL","c":"Scene 1","t":451,"v":-0.2,"label":">"},{"k":"s","p":"FL","c":"Scene 2","t":583,"v":-0.2,"label":"<"},{"k":"s","p":"FL","c":"Scene 2","t":752,"v":-0.2,"label":"Scene 2"},{"k":"s","p":"FL","c":"Scene 2","t":921,"v":-0.2,"label":">"},{"k":"s","p":"FL","c":"Scene 3","t":1055,"v":-0.2,"label":"<"},{"k":"s","p":"FL","c":"Scene 3","t":1221,"v":-0.2,"label":"Scene 3"},{"k":"s","p":"FL","c":"Scene 3","t":1390,"v":-0.2,"label":">"},
{"k":"s","p":"OR","c":"Scene 1","t":114,"v":-0.2,"label":"<"},{"k":"s","p":"OR","c":"Scene 1","t":280,"v":-0.2,"label":"Scene 1"},{"k":"s","p":"OR","c":"Scene 1","t":451,"v":-0.2,"label":">"},{"k":"s","p":"OR","c":"Scene 2","t":583,"v":-0.2,"label":"<"},{"k":"s","p":"OR","c":"Scene 2","t":752,"v":-0.2,"label":"Scene 2"},{"k":"s","p":"OR","c":"Scene 2","t":921,"v":-0.2,"label":">"},{"k":"s","p":"OR","c":"Scene 3","t":1055,"v":-0.2,"label":"<"},{"k":"s","p":"OR","c":"Scene 3","t":1221,"v":-0.2,"label":"Scene 3"},{"k":"s","p":"OR","c":"Scene 3","t":1390,"v":-0.2,"label":">"},
{"k":"s","p":"OL","c":"Scene 1","t":114,"v":-0.2,"label":"<"},{"k":"s","p":"OL","c":"Scene 1","t":280,"v":-0.2,"label":"Scene 1"},{"k":"s","p":"OL","c":"Scene 1","t":451,"v":-0.2,"label":">"},{"k":"s","p":"OL","c":"Scene 2","t":583,"v":-0.2,"label":"<"},{"k":"s","p":"OL","c":"Scene 2","t":752,"v":-0.2,"label":"Scene 2"},{"k":"s","p":"OL","c":"Scene 2","t":921,"v":-0.2,"label":">"},{"k":"s","p":"OL","c":"Scene 3","t":1055,"v":-0.2,"label":"<"},{"k":"s","p":"OL","c":"Scene 3","t":1221,"v":-0.2,"label":"Scene 3"},{"k":"s","p":"OL","c":"Scene 3","t":1390,"v":-0.2,"label":">"}
]
},
"data": {"name": "all"},
"facet": {
  "field": "p", "type": "nominal",
  "sort": ["DR","DL","VR","VL","FR","FL","OR","OL"],
  "header": {
    "title": null,
    "labelExpr": "datum.value==='DR'?'Dorsolateral prefrontal cortex(Right side)':datum.value==='DL'?'Dorsolateral prefrontal cortex(Left side)':datum.value==='VR'?'Ventrolateral prefrontal cortex(Right side)':datum.value==='VL'?'Ventrolateral prefrontal cortex(Left side)':datum.value==='FR'?'Frontopolar prefrontal cortex(Right side)':datum.value==='FL'?'Frontopolar prefrontal cortex(Left side)':datum.value==='OR'?'Orbitofrontal cortex(Right side)':'Orbitofrontal cortex(Left side)'",
    "labelFont": "Liberation Sans",
    "labelFontSize": 33,
    "labelColor": "#111111",
    "labelPadding": 14
  }
},
"columns": 2,
"spacing": {"column": 313, "row": 20},
"resolve": {"axis": {"x": "independent", "y": "independent"}},
"spec": {
  "width": 1354,
  "height": 376,
  "layer": [
    {
      "transform": [{"filter": "datum.k==='m'"}],
      "mark": {"type": "rule", "strokeDash": [20, 10], "strokeWidth": 2},
      "encoding": {
        "x": {"field": "t", "type": "quantitative", "scale": {"domain": [0, 1400], "nice": false, "zero": false},
              "axis": {"orient": "top", "values": [0,200,400,600,800,1000,1200,1400], "labels": false, "title": null, "tickSize": -14, "tickWidth": 2, "tickColor": "#262626", "domainColor": "#808080", "domainWidth": 4, "grid": false}},
        "color": {"field": "c", "type": "nominal", "legend": null,
                  "scale": {"domain": ["S1","S2","m90","m470","m560","m940","m1030","m1400","Scene 1","Scene 2","Scene 3"],
                            "range": ["#0000FF","#FF0000","#4DBEEE","#D95319","#EDB120","#7E2F8E","#77AC30","#4DBEEE","#0072BD","#EDB120","#77AC30"]}}
      }
    },
    {
      "transform": [{"filter": "datum.k==='c'"}],
      "mark": {"type": "line", "interpolate": "monotone", "strokeWidth": 3},
      "encoding": {
        "x": {"field": "t", "type": "quantitative", "scale": {"domain": [0, 1400], "nice": false, "zero": false},
              "axis": {"orient": "bottom", "values": [0,200,400,600,800,1000,1200,1400], "format": "d", "title": "time(msec)", "tickSize": -14, "tickWidth": 2, "tickColor": "#262626", "domainColor": "#808080", "domainWidth": 4, "grid": false,
                       "labelFont": "Liberation Sans", "labelFontSize": 30, "labelColor": "#262626", "labelPadding": 42,
                       "titleFont": "Liberation Sans", "titleFontSize": 34, "titleFontWeight": "normal", "titleColor": "#262626", "titlePadding": 26}},
        "y": {"field": "v", "type": "quantitative", "scale": {"domain": [-0.25, 0.3], "nice": false, "zero": false},
              "axis": {"orient": "left", "values": [-0.2,-0.1,0,0.1,0.2], "labelExpr": "'' + datum.value", "title": "Mean HbO levels(μM)", "tickSize": -14, "tickWidth": 2, "tickColor": "#262626", "domain": true, "domainColor": "#808080", "domainWidth": 3, "grid": false,
                       "labelFont": "Liberation Sans", "labelFontSize": 30, "labelColor": "#262626", "labelPadding": 15,
                       "titleFont": "Liberation Sans", "titleFontSize": 37, "titleFontWeight": "normal", "titleColor": "#262626", "titlePadding": 16}},
        "color": {"field": "c", "type": "nominal", "legend": null,
                  "scale": {"domain": ["S1","S2","m90","m470","m560","m940","m1030","m1400","Scene 1","Scene 2","Scene 3"],
                            "range": ["#0000FF","#FF0000","#4DBEEE","#D95319","#EDB120","#7E2F8E","#77AC30","#4DBEEE","#0072BD","#EDB120","#77AC30"]}}
      }
    },
    {
      "transform": [{"filter": "datum.k==='s'"}],
      "mark": {"type": "text", "font": "Liberation Sans", "fontSize": 30, "align": "center", "baseline": "middle"},
      "encoding": {
        "x": {"field": "t", "type": "quantitative", "scale": {"domain": [0, 1400], "nice": false, "zero": false}, "axis": null},
        "y": {"field": "v", "type": "quantitative", "scale": {"domain": [-0.25, 0.3], "nice": false, "zero": false},
              "axis": {"orient": "right", "values": [-0.2,-0.1,0,0.1,0.2], "labels": false, "title": null, "tickSize": -14, "tickWidth": 2, "tickColor": "#262626", "domain": true, "domainColor": "#808080", "domainWidth": 3, "grid": false}},
        "text": {"field": "label", "type": "nominal"},
        "color": {"field": "c", "type": "nominal", "legend": null,
                  "scale": {"domain": ["S1","S2","m90","m470","m560","m940","m1030","m1400","Scene 1","Scene 2","Scene 3"],
                            "range": ["#0000FF","#FF0000","#4DBEEE","#D95319","#EDB120","#7E2F8E","#77AC30","#4DBEEE","#0072BD","#EDB120","#77AC30"]}}
      }
    }
  ],
  "resolve": {"axis": {"x": "independent", "y": "independent"}}
},
"config": {"view": {"stroke": null}}
}
